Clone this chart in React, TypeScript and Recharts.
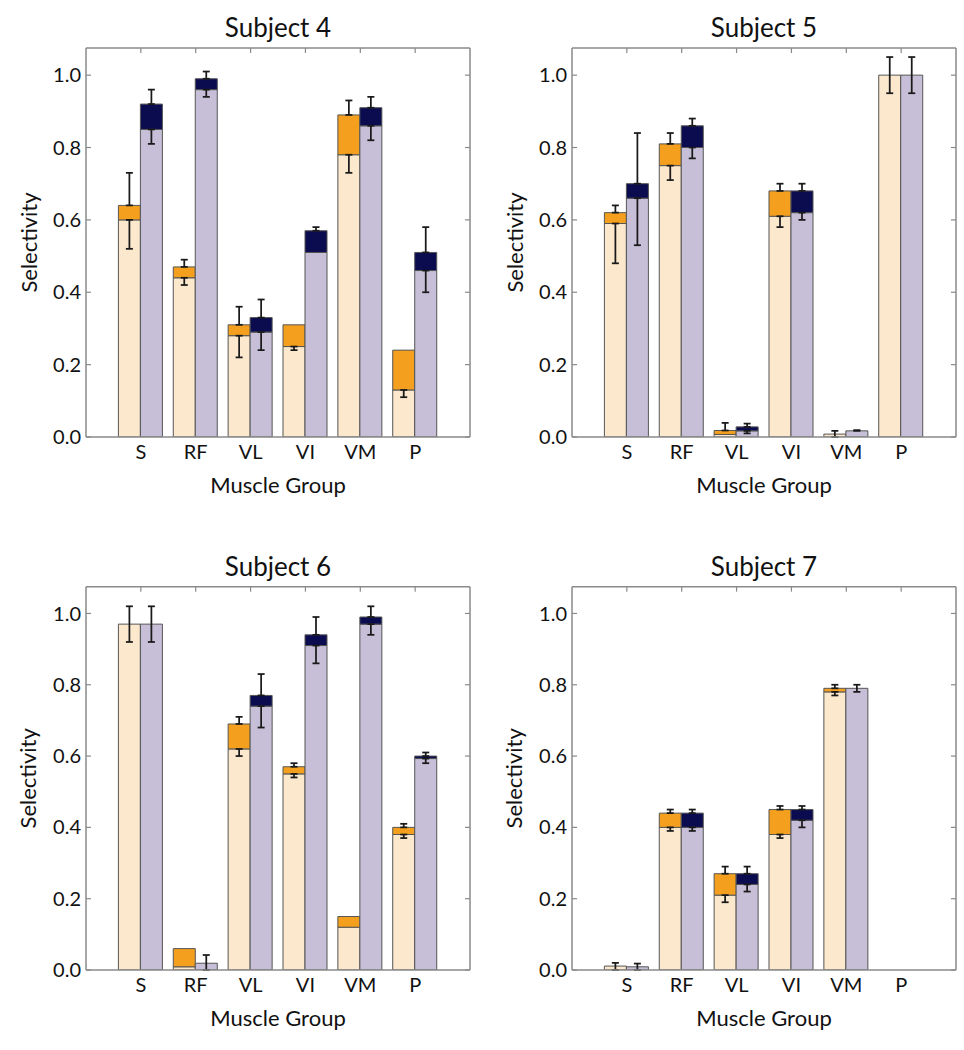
import { BarChart, Bar, XAxis, YAxis, ErrorBar, Label } from "recharts";

const MUSCLES = ["S", "RF", "VL", "VI", "VM", "P"];
const Y_TICKS = [0, 0.2, 0.4, 0.6, 0.8, 1.0];
const Y_MAX = 1.075;

// Subject 4
const S4_BEIGE = [0.6, 0.44, 0.28, 0.25, 0.78, 0.13];
const S4_ORANGE = [0.64, 0.47, 0.31, 0.31, 0.89, 0.24];
const S4_BEIGE_LO = [0.52, 0.42, 0.22, 0.24, 0.73, 0.11];
const S4_ORANGE_HI = [0.73, 0.49, 0.36, 0.31, 0.93, 0.24];
const S4_LILAC = [0.85, 0.96, 0.29, 0.51, 0.86, 0.46];
const S4_NAVY = [0.92, 0.99, 0.33, 0.57, 0.91, 0.51];
const S4_LILAC_LO = [0.81, 0.94, 0.24, 0.51, 0.82, 0.4];
const S4_NAVY_HI = [0.96, 1.01, 0.38, 0.58, 0.94, 0.58];

// Subject 5
const S5_BEIGE = [0.59, 0.75, 0.007, 0.61, 0.008, 1.0];
const S5_ORANGE = [0.62, 0.81, 0.018, 0.68, 0.008, 1.0];
const S5_BEIGE_LO = [0.48, 0.71, 0.007, 0.58, 0.0, 0.95];
const S5_ORANGE_HI = [0.64, 0.84, 0.039, 0.7, 0.017, 1.05];
const S5_LILAC = [0.66, 0.8, 0.017, 0.62, 0.017, 1.0];
const S5_NAVY = [0.7, 0.86, 0.028, 0.68, 0.017, 1.0];
const S5_LILAC_LO = [0.53, 0.77, 0.01, 0.6, 0.017, 0.95];
const S5_NAVY_HI = [0.84, 0.88, 0.037, 0.7, 0.019, 1.05];

// Subject 6
const S6_BEIGE = [0.97, 0.009, 0.62, 0.55, 0.12, 0.38];
const S6_ORANGE = [0.97, 0.06, 0.69, 0.57, 0.15, 0.4];
const S6_BEIGE_LO = [0.92, 0.009, 0.6, 0.54, 0.12, 0.37];
const S6_ORANGE_HI = [1.02, 0.06, 0.71, 0.58, 0.15, 0.41];
const S6_LILAC = [0.97, 0.019, 0.74, 0.91, 0.97, 0.593];
const S6_NAVY = [0.97, 0.019, 0.77, 0.94, 0.99, 0.6];
const S6_LILAC_LO = [0.92, 0.0, 0.68, 0.86, 0.94, 0.58];
const S6_NAVY_HI = [1.02, 0.042, 0.83, 0.99, 1.02, 0.61];

// Subject 7
const S7_BEIGE = [0.011, 0.4, 0.21, 0.38, 0.78, 0];
const S7_ORANGE = [0.011, 0.44, 0.27, 0.45, 0.79, 0];
const S7_BEIGE_LO = [0.0, 0.39, 0.19, 0.37, 0.77, 0];
const S7_ORANGE_HI = [0.02, 0.45, 0.29, 0.46, 0.8, 0];
const S7_LILAC = [0.009, 0.4, 0.24, 0.42, 0.79, 0];
const S7_NAVY = [0.009, 0.44, 0.27, 0.45, 0.79, 0];
const S7_LILAC_LO = [0.0, 0.39, 0.22, 0.4, 0.78, 0];
const S7_NAVY_HI = [0.018, 0.45, 0.29, 0.46, 0.8, 0];

const BEIGE = "#fbe8cd";
const ORANGE = "#f4a01e";
const LILAC = "#c6bfd7";
const NAVY = "#0b0b50";
const OUTLINE = "#555";
const FRAME = "#8a8a8a";
const WHISKER = "#1a1a1a";
const PAD = 27.4;

type Subject = {
  beige: number[];
  orange: number[];
  beigeLo: number[];
  orangeHi: number[];
  lilac: number[];
  navy: number[];
  lilacLo: number[];
  navyHi: number[];
};

// lower whisker hangs off the base segment, upper whisker off the top of the stack;
// when there is no top segment the base carries both
function whiskers(base: number, total: number, lo: number, hi: number) {
  const down = base - lo;
  const up = hi - total;
  const seg = total - base;
  if (seg < 0.0005) {
    return {
      seg: 0,
      baseErr: down > 0.0005 || up > 0.0005 ? [Math.max(down, 0), Math.max(up, 0)] : null,
      topErr: null,
    };
  }
  return {
    seg,
    baseErr: down > 0.0005 ? [down, 0] : null,
    topErr: up > 0.0005 ? [0, up] : null,
  };
}

function buildRows(s: Subject) {
  return MUSCLES.map((name, i) => {
    const o = whiskers(s.beige[i], s.orange[i], s.beigeLo[i], s.orangeHi[i]);
    const p = whiskers(s.lilac[i], s.navy[i], s.lilacLo[i], s.navyHi[i]);
    return {
      name,
      beige: s.beige[i],
      orange: o.seg,
      beigeErr: o.baseErr,
      orangeErr: o.topErr,
      lilac: s.lilac[i],
      navy: p.seg,
      lilacErr: p.baseErr,
      navyErr: p.topErr,
    };
  });
}

const tickStyle = { fill: "#111", fontSize: 20 };
// inner tick marks only, no label
const noLabel = () => <g />;

function Panel({
  title,
  subject,
  left,
  top,
  plotTop,
  plotHeight,
}: {
  title: string;
  subject: Subject;
  left: number;
  top: number;
  plotTop: number;
  plotHeight: number;
}) {
  const rows = buildRows(subject);
  const W = 480;
  const XH = 60;
  const H = plotTop + plotHeight + XH + 10;
  const frame = { stroke: FRAME, strokeWidth: 1.5 };

  return (
    <div style={{ position: "absolute", left, top, width: W, height: H }}>
      <BarChart
        width={W}
        height={H}
        data={rows}
        margin={{ top: plotTop, right: 10, left: 26, bottom: 10 }}
        barGap={0}
        barSize={22}
      >
        <XAxis
          dataKey="name"
          padding={{ left: PAD, right: PAD }}
          height={XH}
          interval={0}
          axisLine={frame}
          tickLine={false}
          tickSize={0}
          tickMargin={8}
          tick={tickStyle}
        >
          <Label
            content={(p: any) => {
              const vb = p.viewBox ?? { x: 86, y: plotTop + plotHeight, width: 384 };
              return (
                <text x={vb.x + vb.width / 2} y={vb.y + 56} textAnchor="middle" fontSize={22} fill="#111">
                  Muscle Group
                </text>
              );
            }}
          />
        </XAxis>
        <XAxis
          xAxisId="top"
          dataKey="name"
          orientation="top"
          mirror
          padding={{ left: PAD, right: PAD }}
          interval={0}
          axisLine={frame}
          tickLine={{ stroke: FRAME, strokeWidth: 1.2 }}
          tickSize={5}
          tick={noLabel}
        />
        <YAxis
          domain={[0, Y_MAX]}
          ticks={Y_TICKS}
          allowDataOverflow
          width={60}
          axisLine={frame}
          tickLine={false}
          tickSize={0}
          tickMargin={5}
          tick={tickStyle}
          tickFormatter={(v: number) => v.toFixed(1)}
        >
          <Label
            content={(p: any) => {
              const vb = p.viewBox ?? { x: 26, y: plotTop, height: plotHeight };
              const cx = vb.x + 2;
              const cy = vb.y + vb.height / 2;
              return (
                <text
                  x={cx}
                  y={cy}
                  transform={`rotate(-90 ${cx} ${cy})`}
                  textAnchor="middle"
                  dominantBaseline="central"
                  fontSize={22}
                  fill="#111"
                >
                  Selectivity
                </text>
              );
            }}
          />
        </YAxis>
        <YAxis
          yAxisId="inLeft"
          domain={[0, Y_MAX]}
          ticks={Y_TICKS}
          allowDataOverflow
          mirror
          axisLine={false}
          tickLine={{ stroke: FRAME, strokeWidth: 1.2 }}
          tickSize={5}
          tick={noLabel}
        />
        <YAxis
          yAxisId="inRight"
          orientation="right"
          domain={[0, Y_MAX]}
          ticks={Y_TICKS}
          allowDataOverflow
          mirror
          axisLine={frame}
          tickLine={{ stroke: FRAME, strokeWidth: 1.2 }}
          tickSize={5}
          tick={noLabel}
        />
        <Bar dataKey="beige" stackId="o" fill={BEIGE} stroke={OUTLINE} strokeWidth={1} isAnimationActive={false}>
          <ErrorBar dataKey="beigeErr" direction="y" width={3.5} stroke={WHISKER} strokeWidth={1.75} />
        </Bar>
        <Bar dataKey="orange" stackId="o" fill={ORANGE} stroke={OUTLINE} strokeWidth={1} isAnimationActive={false}>
          <ErrorBar dataKey="orangeErr" direction="y" width={3.5} stroke={WHISKER} strokeWidth={1.75} />
        </Bar>
        <Bar dataKey="lilac" stackId="p" fill={LILAC} stroke={OUTLINE} strokeWidth={1} isAnimationActive={false}>
          <ErrorBar dataKey="lilacErr" direction="y" width={3.5} stroke={WHISKER} strokeWidth={1.75} />
        </Bar>
        <Bar dataKey="navy" stackId="p" fill={NAVY} stroke={OUTLINE} strokeWidth={1} isAnimationActive={false}>
          <ErrorBar dataKey="navyErr" direction="y" width={3.5} stroke={WHISKER} strokeWidth={1.75} />
        </Bar>
      </BarChart>
      <div
        style={{
          position: "absolute",
          left: 86,
          width: 384,
          top: plotTop - 36,
          textAlign: "center",
          fontSize: 26,
          lineHeight: "30px",
          color: "#111",
        }}
      >
        {title}
      </div>
    </div>
  );
}

const SUBJECT_4: Subject = {
  beige: S4_BEIGE, orange: S4_ORANGE, beigeLo: S4_BEIGE_LO, orangeHi: S4_ORANGE_HI,
  lilac: S4_LILAC, navy: S4_NAVY, lilacLo: S4_LILAC_LO, navyHi: S4_NAVY_HI,
};
const SUBJECT_5: Subject = {
  beige: S5_BEIGE, orange: S5_ORANGE, beigeLo: S5_BEIGE_LO, orangeHi: S5_ORANGE_HI,
  lilac: S5_LILAC, navy: S5_NAVY, lilacLo: S5_LILAC_LO, navyHi: S5_NAVY_HI,
};
const SUBJECT_6: Subject = {
  beige: S6_BEIGE, orange: S6_ORANGE, beigeLo: S6_BEIGE_LO, orangeHi: S6_ORANGE_HI,
  lilac: S6_LILAC, navy: S6_NAVY, lilacLo: S6_LILAC_LO, navyHi: S6_NAVY_HI,
};
const SUBJECT_7: Subject = {
  beige: S7_BEIGE, orange: S7_ORANGE, beigeLo: S7_BEIGE_LO, orangeHi: S7_ORANGE_HI,
  lilac: S7_LILAC, navy: S7_NAVY, lilacLo: S7_LILAC_LO, navyHi: S7_NAVY_HI,
};

export default function App() {
  return (
    <div
      style={{
        position: "absolute",
        left: 0,
        top: 0,
        width: 964,
        height: 1050,
        background: "#fff",
        fontFamily: "Lato, 'Open Sans', sans-serif",
      }}
    >
      <Panel title="Subject 4" subject={SUBJECT_4} left={0} top={0} plotTop={48} plotHeight={389} />
      <Panel title="Subject 5" subject={SUBJECT_5} left={486} top={0} plotTop={48} plotHeight={389} />
      <Panel title="Subject 6" subject={SUBJECT_6} left={0} top={538} plotTop={48.7} plotHeight={383.3} />
      <Panel title="Subject 7" subject={SUBJECT_7} left={486} top={538} plotTop={48.7} plotHeight={383.3} />
    </div>
  );
}
